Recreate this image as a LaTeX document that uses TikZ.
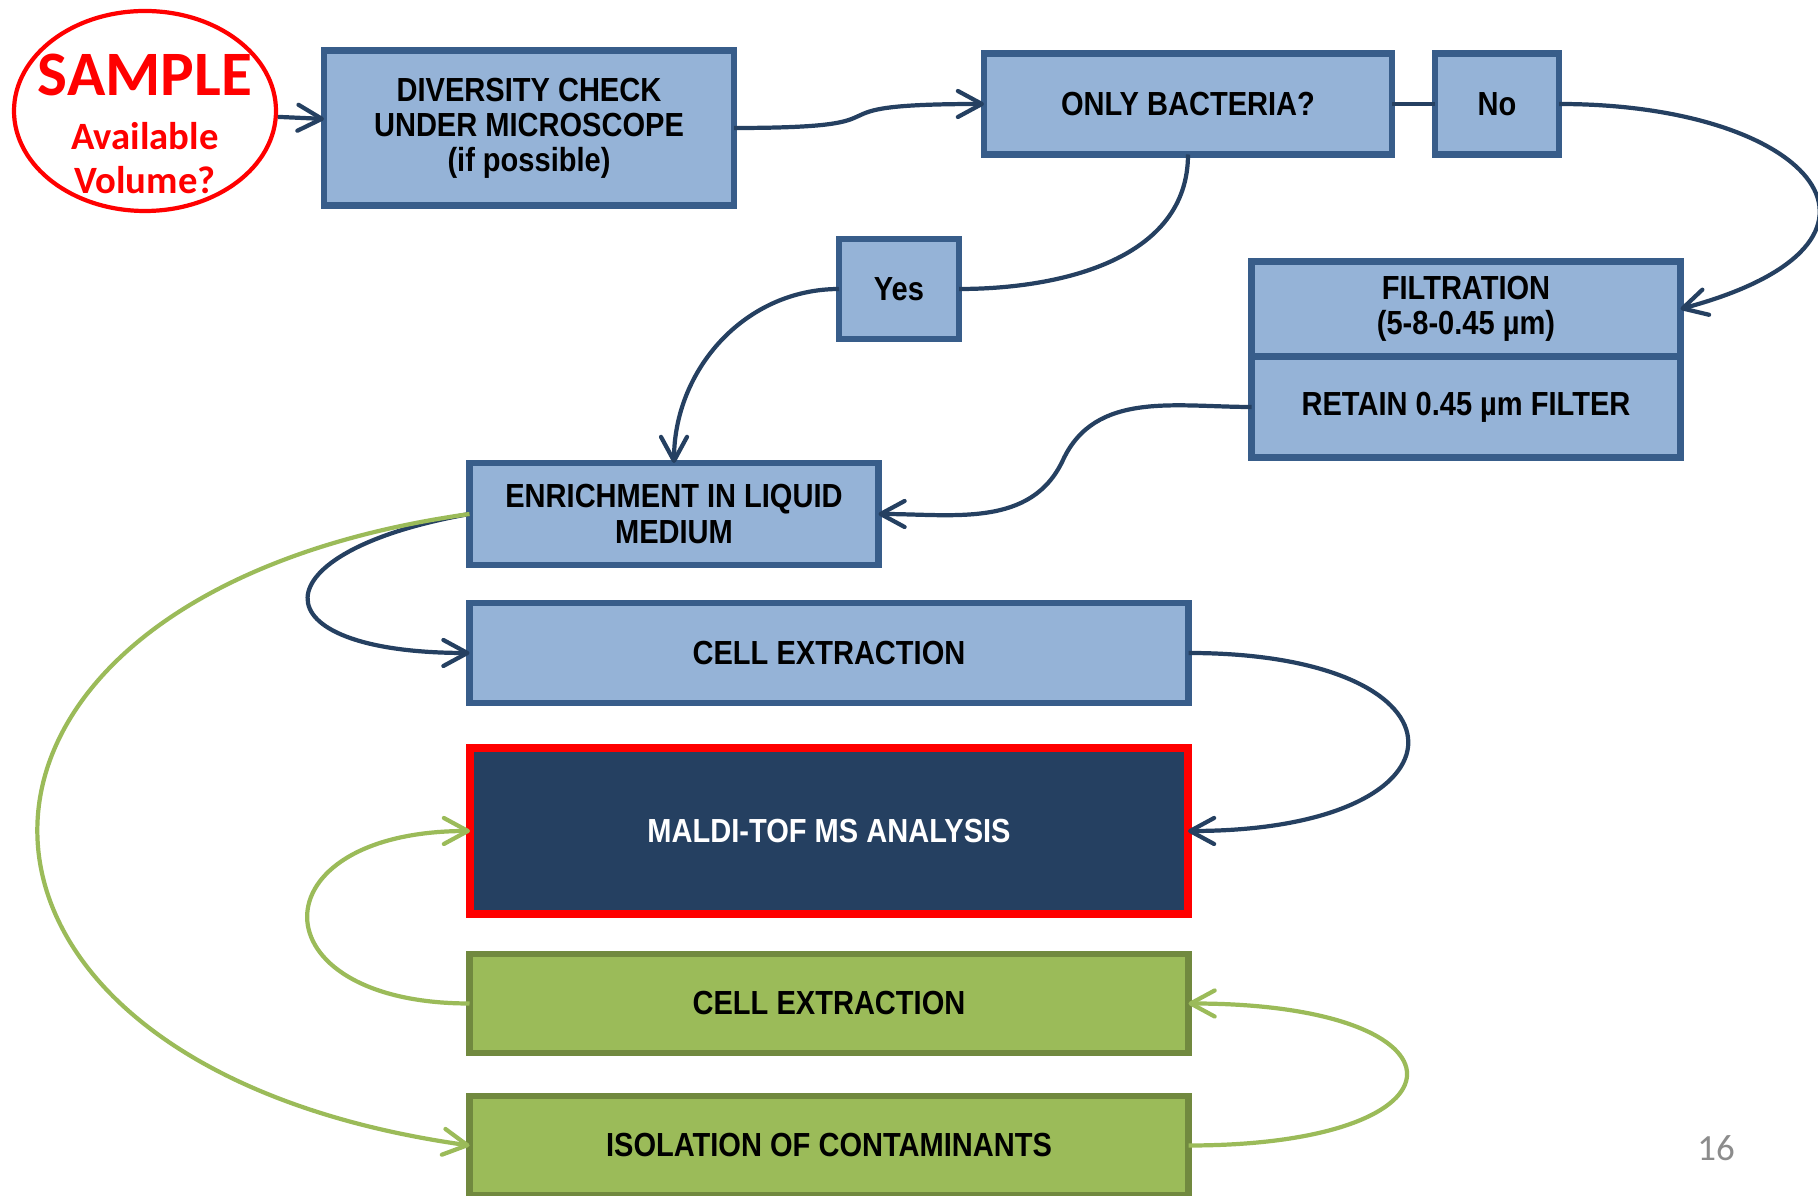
\documentclass[tikz,border=0pt]{standalone}
\usepackage{fontspec}
\usetikzlibrary{arrows.meta,positioning,shapes.geometric}
\newfontfamily\boxfont{Liberation Sans}[FakeStretch=0.87]
\newfontfamily\calfont{Carlito}
\definecolor{boxblue}{HTML}{95B3D7}
\definecolor{edgeblue}{HTML}{385D8A}
\definecolor{navy}{HTML}{254061}
\definecolor{lgreen}{HTML}{9BBB59}
\definecolor{dgreen}{HTML}{71893F}

\begin{document}
\begin{tikzpicture}[>={Straight Barb[length=2.4mm,width=2.6mm,round]},
	box/.style={draw=edgeblue,fill=boxblue,line width=1.8pt,inner sep=0pt,outer sep=0pt,align=center,
		font=\boxfont\bfseries\fontsize{9.5}{10}\selectfont},
	gbox/.style={box,draw=dgreen,fill=lgreen,minimum width=7.19cm,minimum height=0.99cm},
	msbox/.style={box,draw=red,fill=navy,text=white,line width=2.4pt,minimum width=7.18cm,minimum height=1.66cm},
	bline/.style={draw=navy,line width=1.2pt},
	gline/.style={draw=lgreen,line width=1.2pt}]
	\useasboundingbox (0,0) rectangle (18.18,-11.96);
	\node[draw=red,line width=1.2pt,ellipse,minimum width=2.62cm,minimum height=2cm,inner sep=0pt] (smp) at (1.45,-1.11) {};
	\node[text=red,align=center,font=\calfont\bfseries\fontsize{11}{12.5}\selectfont] (smptxt) at ([yshift=-0.13cm]smp.center)
		{{\fontsize{18}{18}\selectfont SAMPLE}\\[0.1cm]Available\\Volume?};
	\node[box,minimum width=4.1cm,minimum height=1.55cm]  (div)  at (5.29,-1.28) {DIVERSITY CHECK\\UNDER MICROSCOPE\\(if possible)};
	\node[box,minimum width=4.08cm,minimum height=1.01cm] (bact) at (11.88,-1.04) {ONLY BACTERIA?};
	\node[box,minimum width=1.24cm,minimum height=1.01cm] (no)   [right=0.43 of bact] {No};
	\node[box,minimum width=1.2cm,minimum height=1cm]     (yes)  at (8.99,-2.89) {Yes};
	\node[box,minimum width=4.29cm,minimum height=0.95cm] (filt) at (14.66,-3.09) {FILTRATION\\(5-8-0.45 µm)};
	\node[box,minimum width=4.29cm,minimum height=1.01cm] (ret)  [below=0 of filt] {RETAIN 0.45 µm FILTER};
	\node[box,minimum width=4.09cm,minimum height=1.02cm] (enr)  at (6.74,-5.14) {ENRICHMENT IN LIQUID\\MEDIUM};
	\node[box,minimum width=7.19cm,minimum height=1cm]    (cell) at (8.29,-6.53) {CELL EXTRACTION};
	\node[msbox] (ms)    [below=0.45 of cell] {MALDI-TOF MS ANALYSIS};
	\node[gbox]  (cellg) [below=0.4 of ms]    {CELL EXTRACTION};
	\node[gbox]  (iso)   [below=0.43 of cellg] {ISOLATION OF CONTAMINANTS};
	\node[text=black!45,font=\calfont\fontsize{10.5}{12}\selectfont] (pg) at (17.16,-11.48) {16};
	\coordinate (bend) at (10.63,-4.6);

	\path (smp)       edge [bline,->] (div)
		  (div.east)  edge [bline,->,out=0,in=180,looseness=2] (bact.west)
		  (bact.east) edge [bline] (no.west)
		  (bact.south) edge [bline,out=-90,in=0] (yes.east)
		  (no.east)   edge [bline,->,out=0,in=15,looseness=2.76] (filt.east)
		  (yes.west)  edge [bline,->,out=180,in=90] (enr.north)
		  (enr.west)  edge [bline,->,out=190,in=180,looseness=4] (cell.west)
		  (cell.east) edge [bline,->,out=0,in=0,looseness=4.2] (ms.east);
	\draw[bline,->] (ret.west) to[out=180,in=65] (bend) to[out=-115,in=0] (enr.east);
	\path (enr.west)  edge [gline,->,out=188,in=172,looseness=2.36] (iso.west)
		  (cellg.west) edge [gline,->,out=180,in=180,looseness=3.2] (ms.west)
		  (iso.east)  edge [gline,->,out=0,in=0,looseness=5.25] (cellg.east);
\end{tikzpicture}
\end{document}
